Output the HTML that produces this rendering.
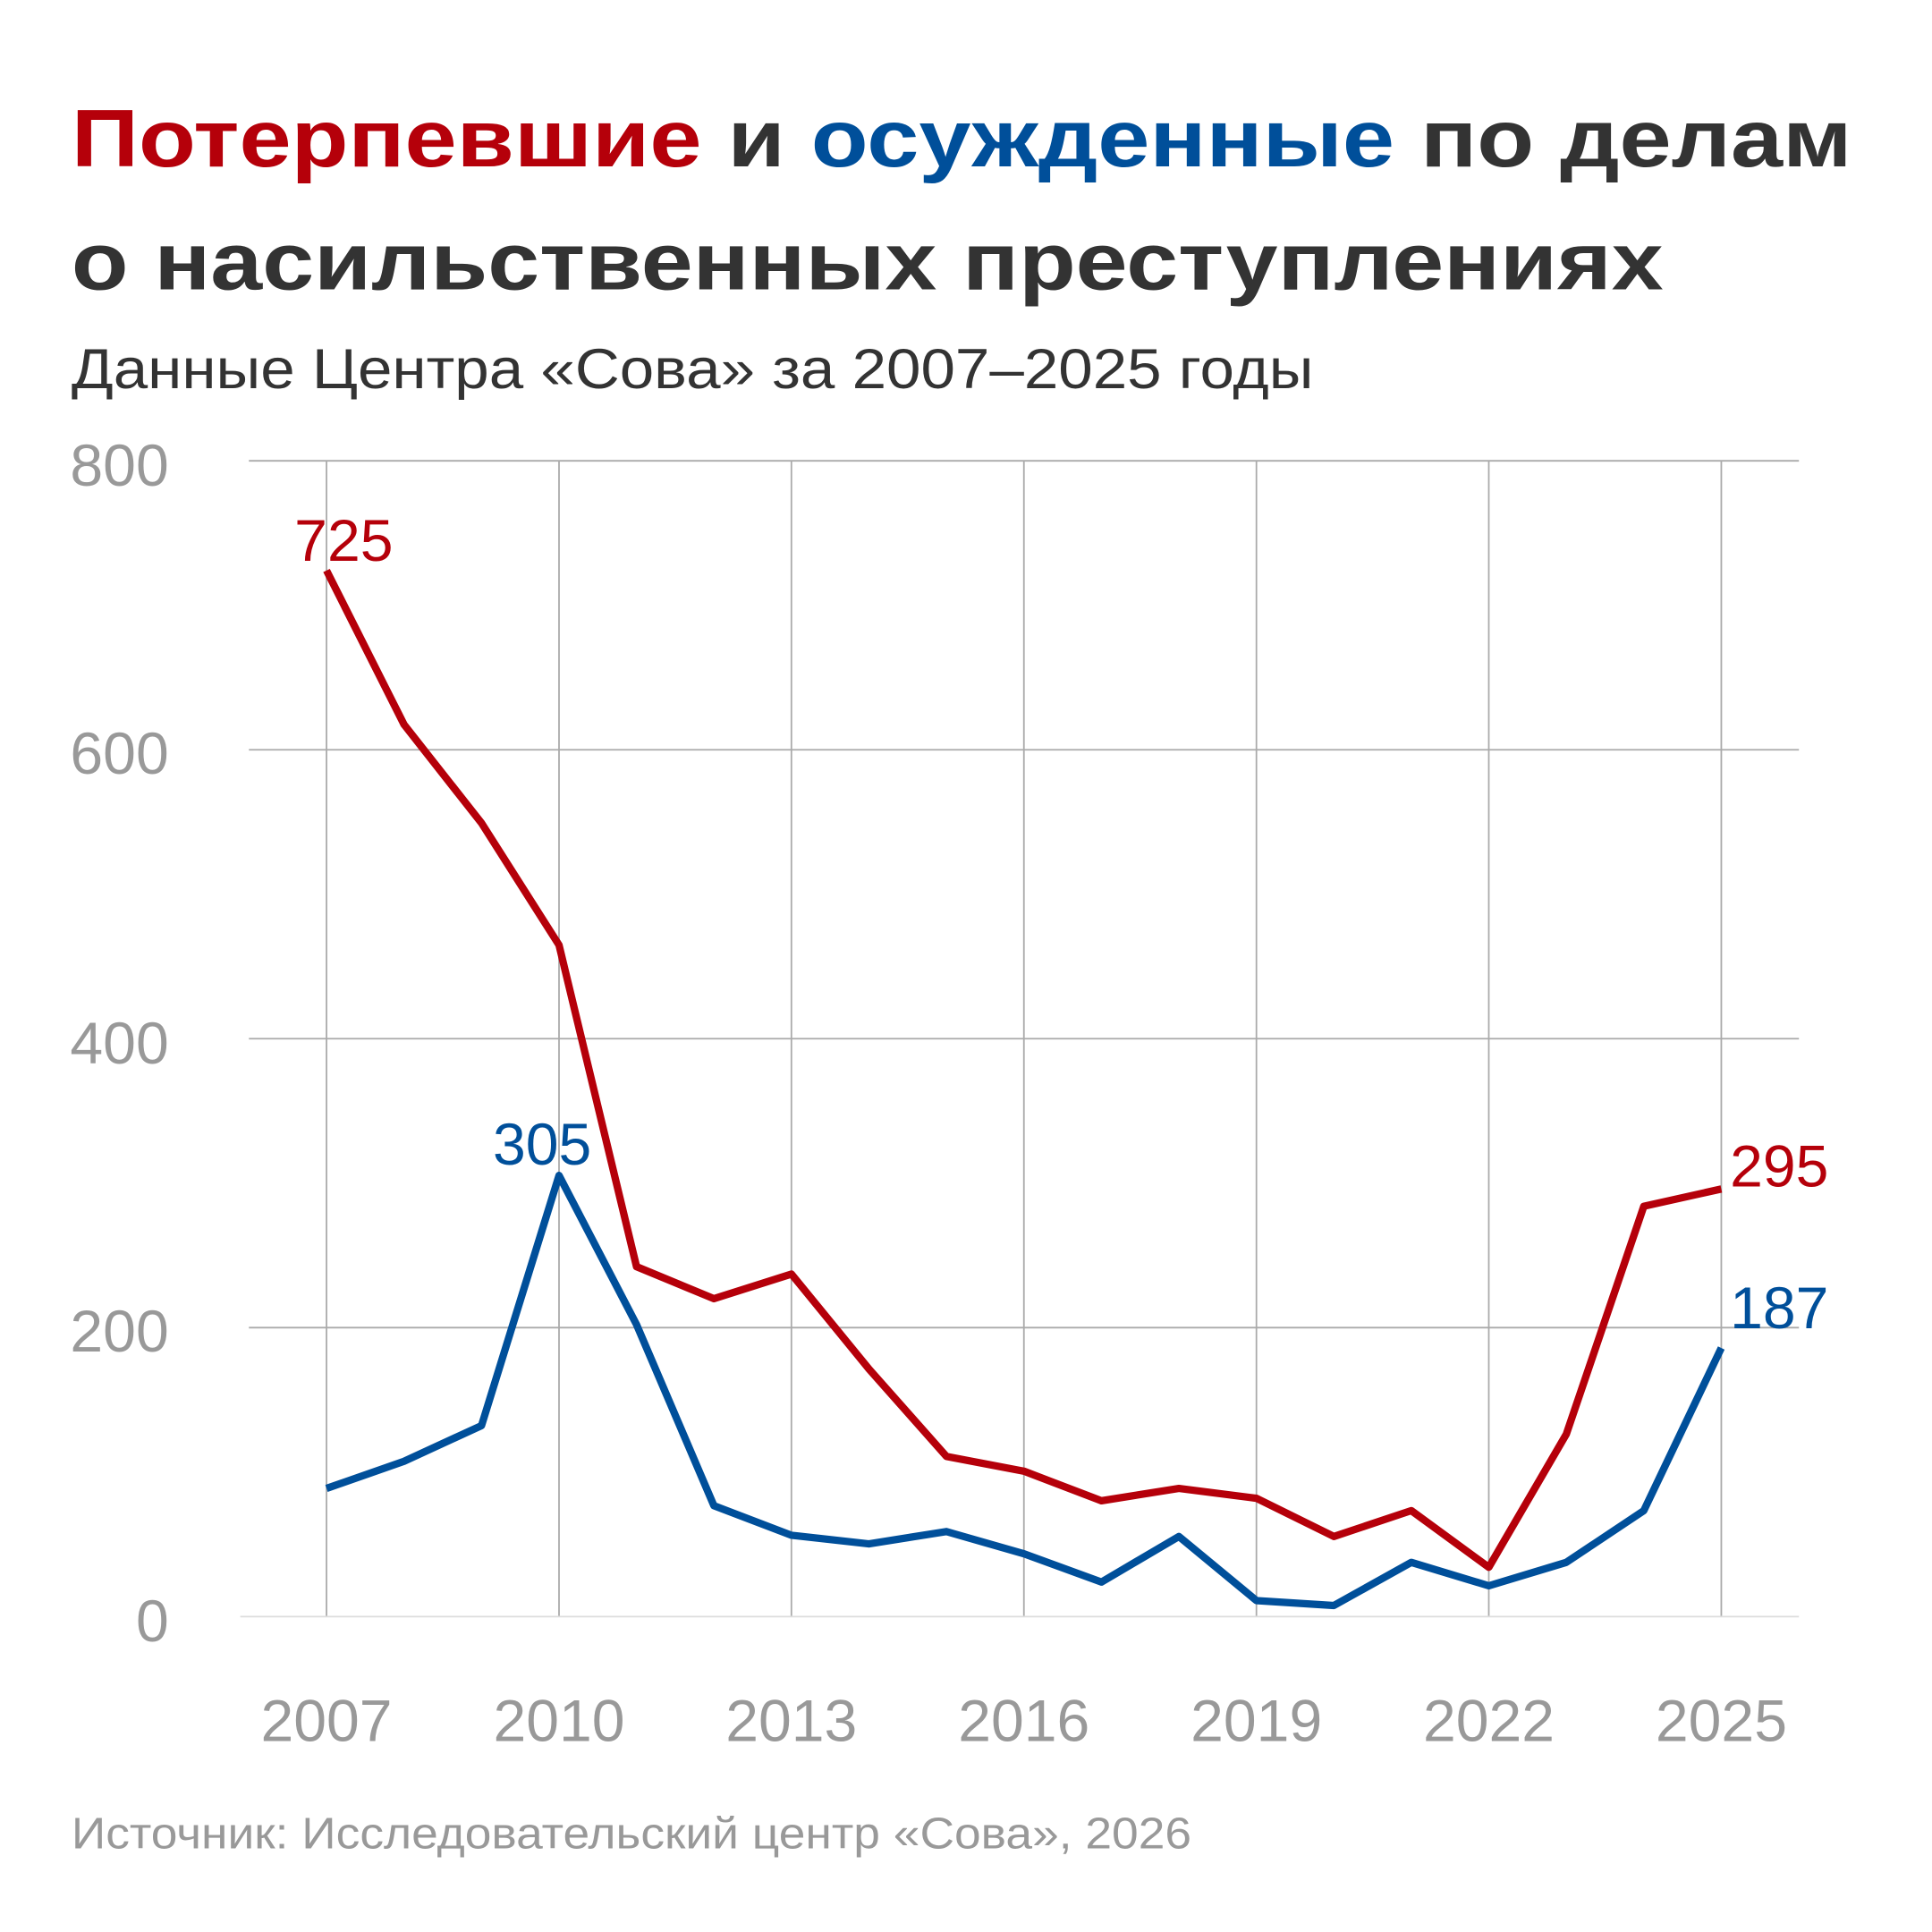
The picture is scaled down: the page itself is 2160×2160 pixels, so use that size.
<!DOCTYPE html>
<html><head><meta charset="utf-8"><style>
html,body{margin:0;padding:0;background:#fff;width:2160px;height:2160px;overflow:hidden}
svg{display:block}
text{font-family:"Liberation Sans",sans-serif}
</style></head><body>
<svg width="2160" height="2160" viewBox="0 0 1568 1568" xmlns="http://www.w3.org/2000/svg">
<rect width="1568" height="1568" fill="#fff"/>
<text x="58" y="135" font-size="66" font-weight="bold" textLength="1445" lengthAdjust="spacingAndGlyphs"><tspan fill="#b5000a">Потерпевшие</tspan><tspan fill="#333"> и </tspan><tspan fill="#004f9a">осужденные</tspan><tspan fill="#333"> по делам</tspan></text>
<text x="58" y="235" font-size="66" font-weight="bold" fill="#333" textLength="1292" lengthAdjust="spacingAndGlyphs">о насильственных преступлениях</text>
<text x="58" y="315" font-size="46" fill="#333" textLength="1008" lengthAdjust="spacingAndGlyphs">Данные Центра «Сова» за 2007–2025 годы</text>
<g stroke="#aaa" stroke-width="1.3">
<line x1="202" y1="374" x2="1460" y2="374"/>
<line x1="202" y1="608.5" x2="1460" y2="608.5"/>
<line x1="202" y1="843" x2="1460" y2="843"/>
<line x1="202" y1="1077.5" x2="1460" y2="1077.5"/>
<line x1="265" y1="374" x2="265" y2="1312"/>
<line x1="453.7" y1="374" x2="453.7" y2="1312"/>
<line x1="642.3" y1="374" x2="642.3" y2="1312"/>
<line x1="831" y1="374" x2="831" y2="1312"/>
<line x1="1019.7" y1="374" x2="1019.7" y2="1312"/>
<line x1="1208.3" y1="374" x2="1208.3" y2="1312"/>
<line x1="1397" y1="374" x2="1397" y2="1312"/>
</g>
<line x1="195" y1="1312" x2="1460" y2="1312" stroke="#ddd" stroke-width="1.3"/>
<g font-size="48" fill="#999" text-anchor="end">
<text x="137" y="394">800</text><text x="137" y="628">600</text><text x="137" y="863">400</text><text x="137" y="1097">200</text><text x="137" y="1332">0</text>
</g>
<g font-size="48" fill="#999" text-anchor="middle">
<text x="265" y="1413">2007</text><text x="453.7" y="1413">2010</text><text x="642.3" y="1413">2013</text><text x="831" y="1413">2016</text><text x="1019.7" y="1413">2019</text><text x="1208.3" y="1413">2022</text><text x="1397" y="1413">2025</text>
</g>
<polyline fill="none" stroke="#004f9a" stroke-width="6" stroke-linejoin="round" points="265,1208 327.9,1186 390.8,1157 453.7,954 516.6,1075 579.4,1222 642.3,1246 705.2,1253 768.1,1243 831,1261 893.9,1284 956.8,1247 1019.7,1299 1082.6,1303 1145.4,1268 1208.3,1287 1271.2,1268 1334.1,1226 1397,1094"/>
<polyline fill="none" stroke="#b5000a" stroke-width="6" stroke-linejoin="round" points="265,463 327.9,588 390.8,668 453.7,767 516.6,1028 579.4,1054 642.3,1034 705.2,1111 768.1,1182 831,1194 893.9,1218 956.8,1208 1019.7,1216 1082.6,1247 1145.4,1226 1208.3,1272 1271.2,1164 1334.1,979 1397,965"/>
<g font-size="48">
<text x="279" y="455" fill="#b5000a" text-anchor="middle">725</text>
<text x="440" y="945" fill="#004f9a" text-anchor="middle">305</text>
<text x="1404" y="963" fill="#b5000a">295</text>
<text x="1404" y="1078" fill="#004f9a">187</text>
</g>
<text x="58" y="1500" font-size="36" fill="#999" textLength="909" lengthAdjust="spacingAndGlyphs">Источник: Исследовательский центр «Сова», 2026</text>
</svg>
</body></html>
